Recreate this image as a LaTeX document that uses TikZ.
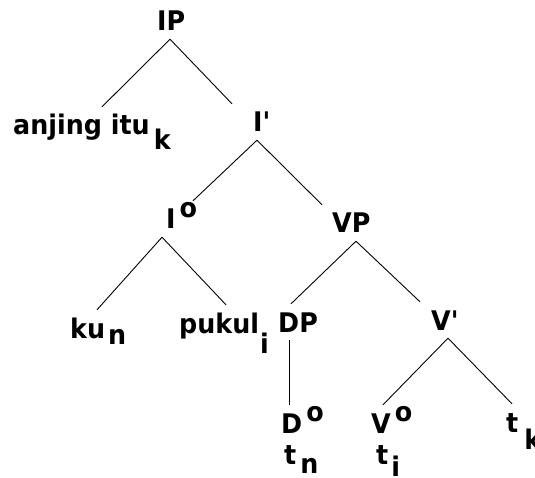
\documentclass[tikz,border=0pt]{standalone}
\usepackage{fontspec}
\setmainfont{DejaVu Sans}[FakeStretch=0.94]
\newcommand{\subsh}[3]{\hspace{#1pt}\raisebox{-#2pt}{#3}}
\newcommand{\supsh}[3]{\hspace{#1pt}\raisebox{#2pt}{#3}}
\begin{document}
\begin{tikzpicture}[x=1pt,y=-1pt,
  cat/.style={anchor=base west, inner xsep=0pt, inner ysep=8pt, text height=20pt, text depth=0pt,
    font=\fontsize{27}{32}\selectfont\bfseries},
  branch/.style={line width=0.9pt}]
\useasboundingbox (0,0) rectangle (535,478);
\node[cat] (IP) at (157,31) {IP};
\node[cat] (anj) at (13,135) {anjing itu\subsh{4}{15}{k}};
\node[cat] (Ibar) at (253,132) {I\textquotesingle};
\node[cat] (I0) at (166,229) {I\supsh{4}{11}{o}};
\node[cat] (VP) at (332,233) {VP};
\node[cat] (ku) at (70,338) {ku\subsh{3}{6}{n}};
\node[cat] (pukul) at (179,333) {pukul\subsh{1}{20}{i}};
\node[cat] (DP) at (278,332) {DP};
\node[cat] (Vbar) at (431,330) {V\textquotesingle};
\node[cat] (D0) at (281,433) {D\supsh{4}{12}{o}};
\node[cat] (tn) at (284,464) {t\subsh{4}{9}{n}};
\node[cat] (V0) at (371,433) {V\supsh{4}{12}{o}};
\node[cat] (ti) at (376,464) {t\subsh{3}{12}{i}};
\node[cat] (tk) at (506,432) {t\subsh{6}{17}{k}};
\draw[branch] ([xshift=13pt]IP.south west) -- ([xshift=89pt]anj.north west);
\draw[branch] ([xshift=13pt]IP.south west) -- ([xshift=-21pt]Ibar.north west);
\draw[branch] ([xshift=4pt]Ibar.south west) -- ([xshift=27pt]I0.north west);
\draw[branch] ([xshift=4pt]Ibar.south west) -- ([xshift=-10pt]VP.north west);
\draw[branch] ([xshift=-4pt]I0.south west) -- ([xshift=27pt]ku.north west);
\draw[branch] ([xshift=-4pt]I0.south west) -- ([xshift=47pt]pukul.north west);
\draw[branch] ([xshift=24pt]VP.south west) -- ([xshift=13pt]DP.north west);
\draw[branch] ([xshift=24pt]VP.south west) -- ([xshift=-11pt]Vbar.north west);
\draw[branch] ([xshift=11pt]DP.south west) -- ([xshift=8pt]D0.north west);
\draw[branch] ([xshift=17pt]Vbar.south west) -- ([xshift=12pt]V0.north west);
\draw[branch] ([xshift=17pt]Vbar.south west) -- ([xshift=6pt]tk.north west);
\end{tikzpicture}
\end{document}
